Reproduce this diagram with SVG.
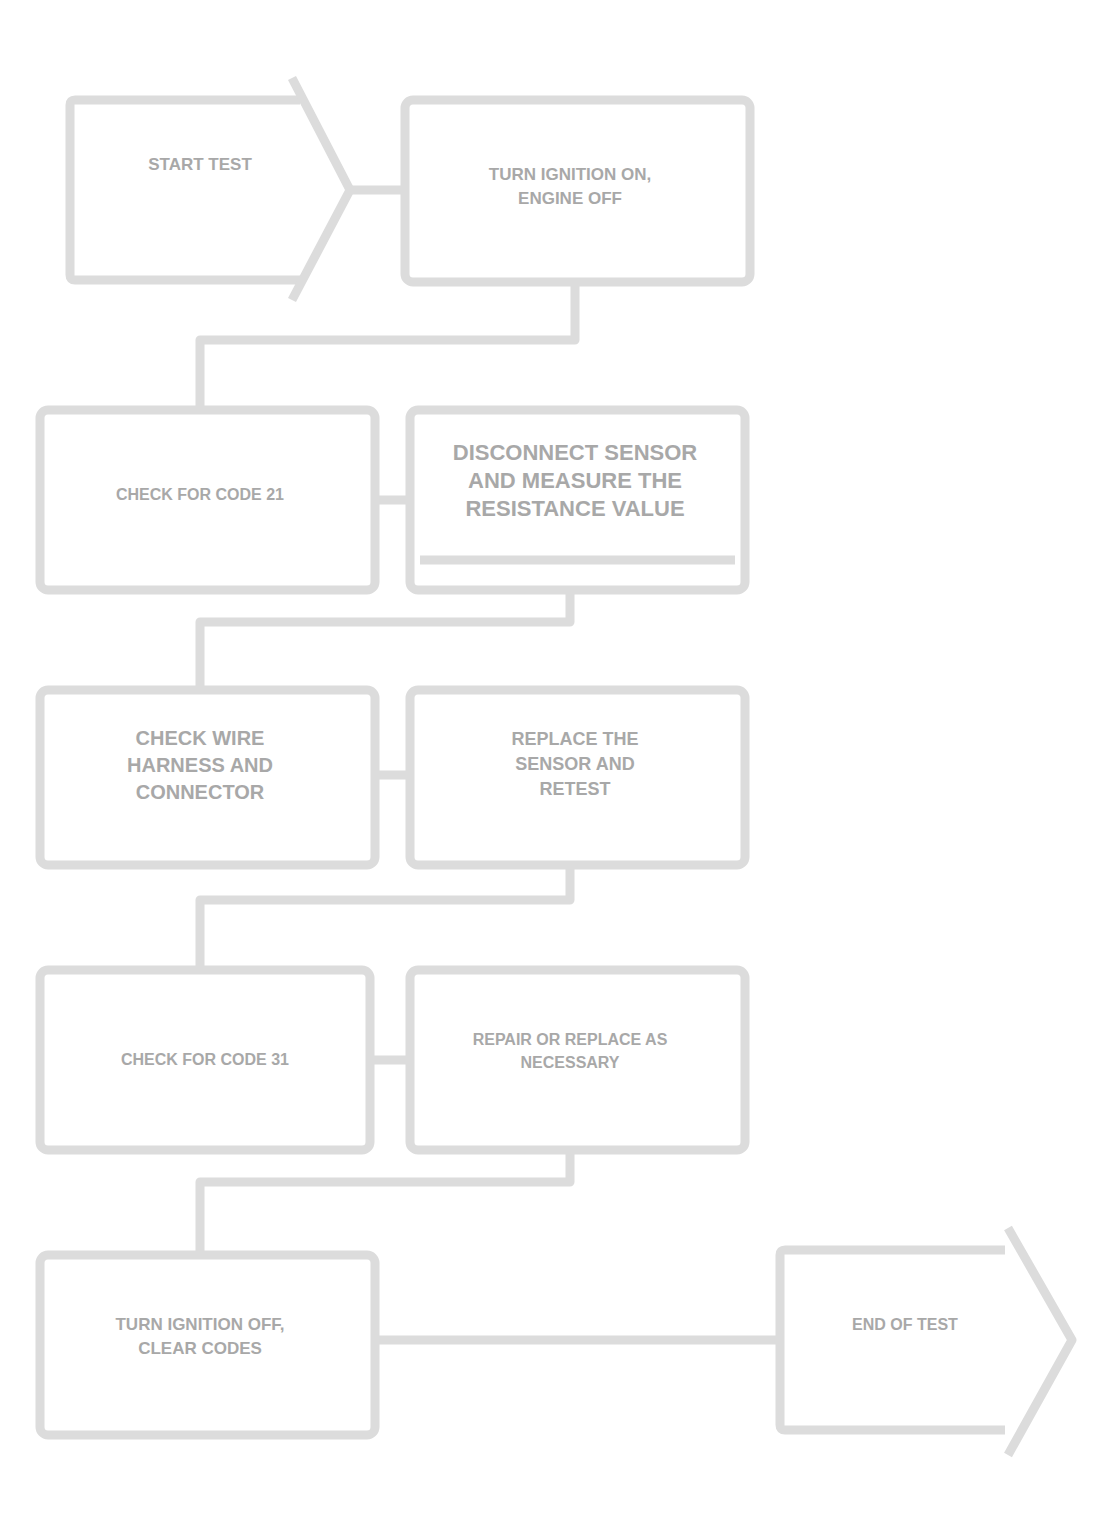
<svg xmlns="http://www.w3.org/2000/svg" width="1108" height="1535" viewBox="0 0 1108 1535">
<style>
.b{fill:#fff;stroke:#dcdcdc;stroke-width:9;stroke-linejoin:round}
.c{fill:none;stroke:#dcdcdc;stroke-width:9;stroke-linejoin:round}
.t{font-family:"Liberation Sans",Arial,sans-serif;font-weight:bold;fill:#a8a8a8;text-anchor:middle}
</style>
<rect width="1108" height="1535" fill="#fff"/>
<g id="connectors">
<line class="c" x1="350" y1="190" x2="405" y2="190"/>
<polyline class="c" points="575,282 575,340 200,340 200,410"/>
<line class="c" x1="375" y1="500" x2="410" y2="500"/>
<polyline class="c" points="570,590 570,622 200,622 200,690"/>
<line class="c" x1="375" y1="775" x2="410" y2="775"/>
<polyline class="c" points="570,865 570,900 200,900 200,970"/>
<line class="c" x1="370" y1="1060" x2="410" y2="1060"/>
<polyline class="c" points="570,1150 570,1182 200,1182 200,1255"/>
<line class="c" x1="375" y1="1340" x2="780" y2="1340"/>
</g>
<g id="n1">
<path class="b" d="M300,100 L75,100 Q70,100 70,105 L70,275 Q70,280 75,280 L300,280"/>
<polyline class="c" points="292,78 350,190 292,300"/>
<text class="t" x="200" y="170" font-size="17">START TEST</text>
</g>
<g id="n2">
<rect class="b" x="405" y="100" width="345" height="182" rx="8"/>
<text class="t" x="570" y="180" font-size="17">TURN IGNITION ON,</text>
<text class="t" x="570" y="204" font-size="17">ENGINE OFF</text>
</g>
<g id="n3">
<rect class="b" x="40" y="410" width="335" height="180" rx="8"/>
<text class="t" x="200" y="500" font-size="16">CHECK FOR CODE 21</text>
</g>
<g id="n4">
<rect class="b" x="410" y="410" width="335" height="180" rx="8"/>
<line class="c" x1="420" y1="560" x2="735" y2="560" stroke-width="6"/>
<text class="t" x="575" y="460" font-size="22" fill="#999">DISCONNECT SENSOR</text>
<text class="t" x="575" y="488" font-size="22" fill="#999">AND MEASURE THE</text>
<text class="t" x="575" y="516" font-size="22" fill="#999">RESISTANCE VALUE</text>
</g>
<g id="n5">
<rect class="b" x="40" y="690" width="335" height="175" rx="8"/>
<text class="t" x="200" y="745" font-size="20">CHECK WIRE</text>
<text class="t" x="200" y="772" font-size="20">HARNESS AND</text>
<text class="t" x="200" y="799" font-size="20">CONNECTOR</text>
</g>
<g id="n6">
<rect class="b" x="410" y="690" width="335" height="175" rx="8"/>
<text class="t" x="575" y="745" font-size="18">REPLACE THE</text>
<text class="t" x="575" y="770" font-size="18">SENSOR AND</text>
<text class="t" x="575" y="795" font-size="18">RETEST</text>
</g>
<g id="n7">
<rect class="b" x="40" y="970" width="330" height="180" rx="8"/>
<text class="t" x="205" y="1065" font-size="16">CHECK FOR CODE 31</text>
</g>
<g id="n8">
<rect class="b" x="410" y="970" width="335" height="180" rx="8"/>
<text class="t" x="570" y="1045" font-size="16">REPAIR OR REPLACE AS</text>
<text class="t" x="570" y="1068" font-size="16">NECESSARY</text>
</g>
<g id="n9">
<rect class="b" x="40" y="1255" width="335" height="180" rx="8"/>
<text class="t" x="200" y="1330" font-size="17">TURN IGNITION OFF,</text>
<text class="t" x="200" y="1354" font-size="17">CLEAR CODES</text>
</g>
<g id="n10">
<path class="b" d="M1005,1250 L785,1250 Q780,1250 780,1255 L780,1425 Q780,1430 785,1430 L1005,1430"/>
<polyline class="c" points="1008,1228 1072,1340 1008,1455"/>
<text class="t" x="905" y="1330" font-size="16">END OF TEST</text>
</g>
</svg>
